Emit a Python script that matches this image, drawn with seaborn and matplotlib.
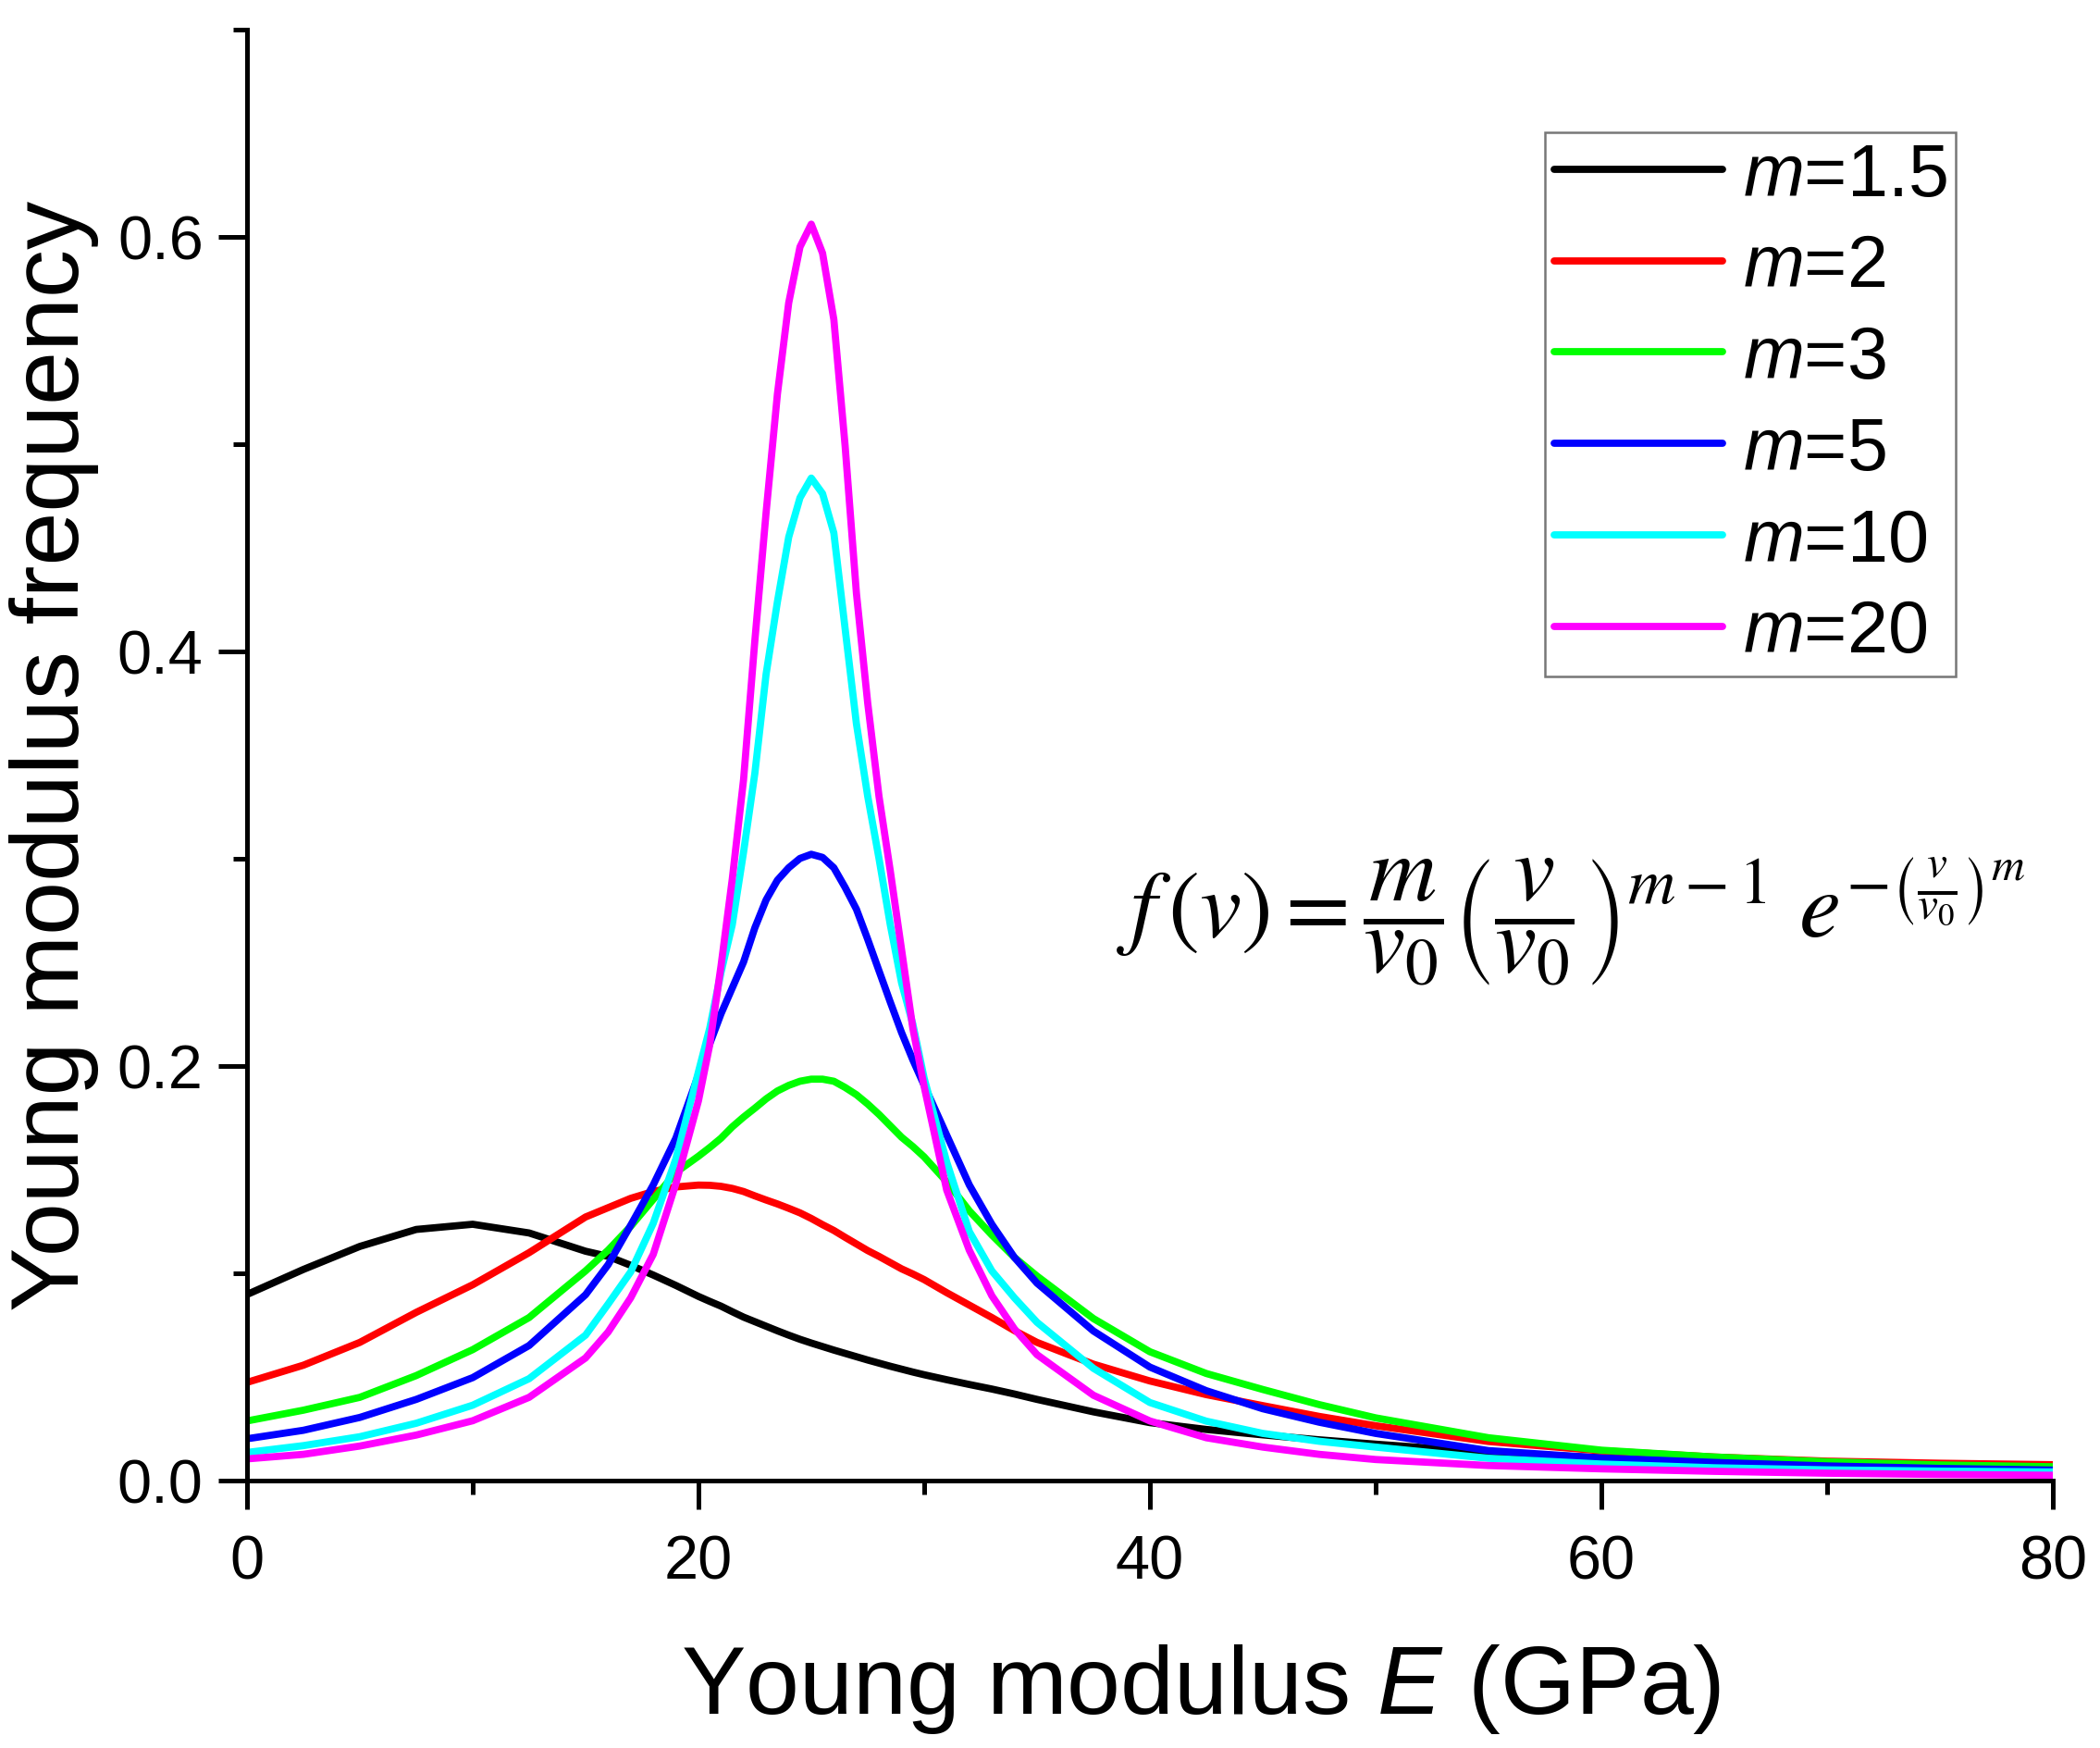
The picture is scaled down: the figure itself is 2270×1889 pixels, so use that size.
import pandas as pd
import matplotlib
matplotlib.use('Agg')
import matplotlib.pyplot as plt
from matplotlib.ticker import MultipleLocator, FormatStrFormatter
import seaborn as sns

# Young modulus grid (GPa), shared by all curves
E = [0, 2.5, 5, 7.5, 10, 12.5, 15, 16, 17, 18, 19, 20, 20.5, 21, 21.5, 22, 22.5,
     23, 23.5, 24, 24.5, 25, 25.5, 26, 26.5, 27, 27.5, 28, 28.5, 29, 29.5, 30,
     31, 32, 33, 34, 35, 37.5, 40, 42.5, 45, 47.5, 50, 55, 60, 65, 70, 75, 80]

# frequency values, one list per shape parameter m
f_m1_5 = [0.0896, 0.1017, 0.1128, 0.1210, 0.1235, 0.1193, 0.1105, 0.1080, 0.1037, 0.0990,
          0.0940, 0.0887, 0.0863, 0.0840, 0.0813, 0.0787, 0.0765, 0.0743, 0.0721, 0.0700,
          0.0680, 0.0662, 0.0645, 0.0628, 0.0612, 0.0596, 0.0580, 0.0565, 0.0550, 0.0536,
          0.0522, 0.0509, 0.0485, 0.0462, 0.0440, 0.0416, 0.0390, 0.0330, 0.0278, 0.0245,
          0.0219, 0.0195, 0.0174, 0.0135, 0.0108, 0.0088, 0.0072, 0.0060, 0.0050]
f_m2 = [0.0472, 0.0555, 0.0665, 0.0810, 0.0943, 0.1098, 0.1270, 0.1315, 0.1360, 0.1393,
        0.1415, 0.1424, 0.1423, 0.1418, 0.1408, 0.1393, 0.1372, 0.1352, 0.1333, 0.1312,
        0.1290, 0.1263, 0.1233, 0.1205, 0.1172, 0.1140, 0.1108, 0.1080, 0.1050, 0.1020,
        0.0995, 0.0968, 0.0905, 0.0845, 0.0785, 0.0722, 0.0665, 0.0560, 0.0479, 0.0413,
        0.0360, 0.0308, 0.0263, 0.0187, 0.0142, 0.0112, 0.0092, 0.0082, 0.0075]
f_m3 = [0.0286, 0.0338, 0.0400, 0.0505, 0.0630, 0.0785, 0.1010, 0.1110, 0.1225, 0.1355,
        0.1485, 0.1563, 0.1605, 0.1650, 0.1705, 0.1752, 0.1795, 0.1840, 0.1878, 0.1905,
        0.1925, 0.1935, 0.1935, 0.1925, 0.1895, 0.1860, 0.1815, 0.1765, 0.1710, 0.1655,
        0.1610, 0.1560, 0.1440, 0.1300, 0.1183, 0.1075, 0.0985, 0.0780, 0.0620, 0.0515,
        0.0438, 0.0365, 0.0301, 0.0205, 0.0145, 0.0112, 0.0089, 0.0074, 0.0065]
f_m5 = [0.0200, 0.0241, 0.0303, 0.0390, 0.0495, 0.0650, 0.0895, 0.1040, 0.1230, 0.1425,
        0.1650, 0.1955, 0.2105, 0.2250, 0.2375, 0.2500, 0.2665, 0.2800, 0.2895, 0.2955,
        0.3000, 0.3020, 0.3005, 0.2955, 0.2860, 0.2755, 0.2610, 0.2458, 0.2307, 0.2160,
        0.2028, 0.1906, 0.1665, 0.1425, 0.1235, 0.1075, 0.0951, 0.0720, 0.0546, 0.0432,
        0.0345, 0.0280, 0.0226, 0.0143, 0.0107, 0.0086, 0.0069, 0.0057, 0.0049]
f_m10 = [0.0134, 0.0167, 0.0210, 0.0275, 0.0362, 0.0490, 0.0700, 0.0850, 0.1005, 0.1240,
         0.1550, 0.1970, 0.2180, 0.2450, 0.2680, 0.3030, 0.3410, 0.3890, 0.4238, 0.4550,
         0.4740, 0.4835, 0.4760, 0.4570, 0.4108, 0.3650, 0.3300, 0.3000, 0.2680, 0.2400,
         0.2200, 0.1940, 0.1535, 0.1200, 0.1010, 0.0880, 0.0762, 0.0540, 0.0375, 0.0285,
         0.0226, 0.0188, 0.0160, 0.0106, 0.0078, 0.0060, 0.0050, 0.0044, 0.0040]
f_m20 = [0.0103, 0.0125, 0.0165, 0.0218, 0.0287, 0.0400, 0.0590, 0.0715, 0.0880, 0.1090,
         0.1430, 0.1830, 0.2100, 0.2480, 0.2900, 0.3380, 0.4050, 0.4670, 0.5240, 0.5680,
         0.5950, 0.6060, 0.5920, 0.5600, 0.4990, 0.4280, 0.3750, 0.3300, 0.2940, 0.2560,
         0.2180, 0.1900, 0.1400, 0.1110, 0.0890, 0.0730, 0.0606, 0.0410, 0.0286, 0.0205,
         0.0160, 0.0125, 0.0100, 0.0071, 0.0055, 0.0043, 0.0034, 0.0028, 0.0024]

m_labels = ['1.5', '2', '3', '5', '10', '20']
series = [f_m1_5, f_m2, f_m3, f_m5, f_m10, f_m20]
colors = ['#000000', '#ff0000', '#00ff00', '#0000ff', '#00ffff', '#ff00ff']

rows = []
for m, vals in zip(m_labels, series):
    for e, v in zip(E, vals):
        rows.append({'E': e, 'f': v, 'm': m})
df = pd.DataFrame(rows)

sns.set_style('ticks')
plt.rcParams['font.family'] = ['Liberation Sans', 'DejaVu Sans']
plt.rcParams['mathtext.fontset'] = 'custom'
plt.rcParams['mathtext.rm'] = 'Liberation Sans'
plt.rcParams['mathtext.it'] = 'Liberation Sans:italic'
for key in ['text.color', 'axes.labelcolor', 'xtick.color', 'ytick.color']:
    plt.rcParams[key] = 'black'

fig = plt.figure(figsize=(11.35, 9.45), dpi=200)
ax = fig.add_axes([0.1176, 0.1531, 0.8599, 0.8296])

sns.lineplot(data=df, x='E', y='f', hue='m', hue_order=m_labels,
             palette=colors, linewidth=2.8, estimator=None, ax=ax,
             solid_joinstyle='round')

ax.set_xlim(0, 80)
ax.set_ylim(0, 0.7)
ax.xaxis.set_major_locator(MultipleLocator(20))
ax.xaxis.set_minor_locator(MultipleLocator(10))
ax.yaxis.set_major_locator(MultipleLocator(0.2))
ax.yaxis.set_minor_locator(MultipleLocator(0.1))
ax.yaxis.set_major_formatter(FormatStrFormatter('%.1f'))
ax.set_yticks([0.0, 0.2, 0.4, 0.6])

for s in ['top', 'right']:
    ax.spines[s].set_visible(False)
for s in ['left', 'bottom']:
    ax.spines[s].set_linewidth(1.8)
    ax.spines[s].set_color('black')

ax.tick_params(which='major', direction='out', length=11, width=1.8,
               labelsize=24, color='black', labelcolor='black')
ax.tick_params(which='minor', direction='out', length=5.5, width=1.8, color='black')
ax.tick_params(axis='x', which='major', pad=10)
ax.tick_params(axis='y', which='major', pad=6)

ax.set_xlabel('Young modulus $E$ (GPa)', fontsize=37.5, color='black')
ax.set_ylabel('Young modulus frequency', fontsize=37.5, color='black')
ax.xaxis.set_label_coords(0.528, -0.1437)
ax.xaxis.label.set_verticalalignment('center')
ax.yaxis.set_label_coords(-0.107, 0.5)
ax.yaxis.label.set_verticalalignment('center')

handles, _ = ax.get_legend_handles_labels()
leg = ax.legend(handles, ['$m$=' + m for m in m_labels],
                loc='upper left', bbox_to_anchor=(0.7357, 0.9238),
                bbox_transform=fig.transFigure, fontsize=28.5,
                frameon=True, fancybox=False, borderpad=0.12,
                handlelength=2.3, handletextpad=0.28, labelspacing=0.3,
                borderaxespad=0)
leg.get_frame().set_edgecolor('#555555')
leg.get_frame().set_linewidth(0.9)
for line in leg.get_lines():
    line.set_linewidth(2.8)
for t in leg.get_texts():
    t.set_color('black')

ax.text(0.5317, 0.473,
        r'$f\,(v)=\dfrac{m}{v_0}\left(\dfrac{v}{v_0}\right)^{m-1}\ e^{-\left(\frac{v}{v_0}\right)^{m}}$',
        transform=fig.transFigure, ha='left', va='center', fontsize=36.5,
        math_fontfamily='stix', color='black')

fig.savefig('out.png', dpi=200)
